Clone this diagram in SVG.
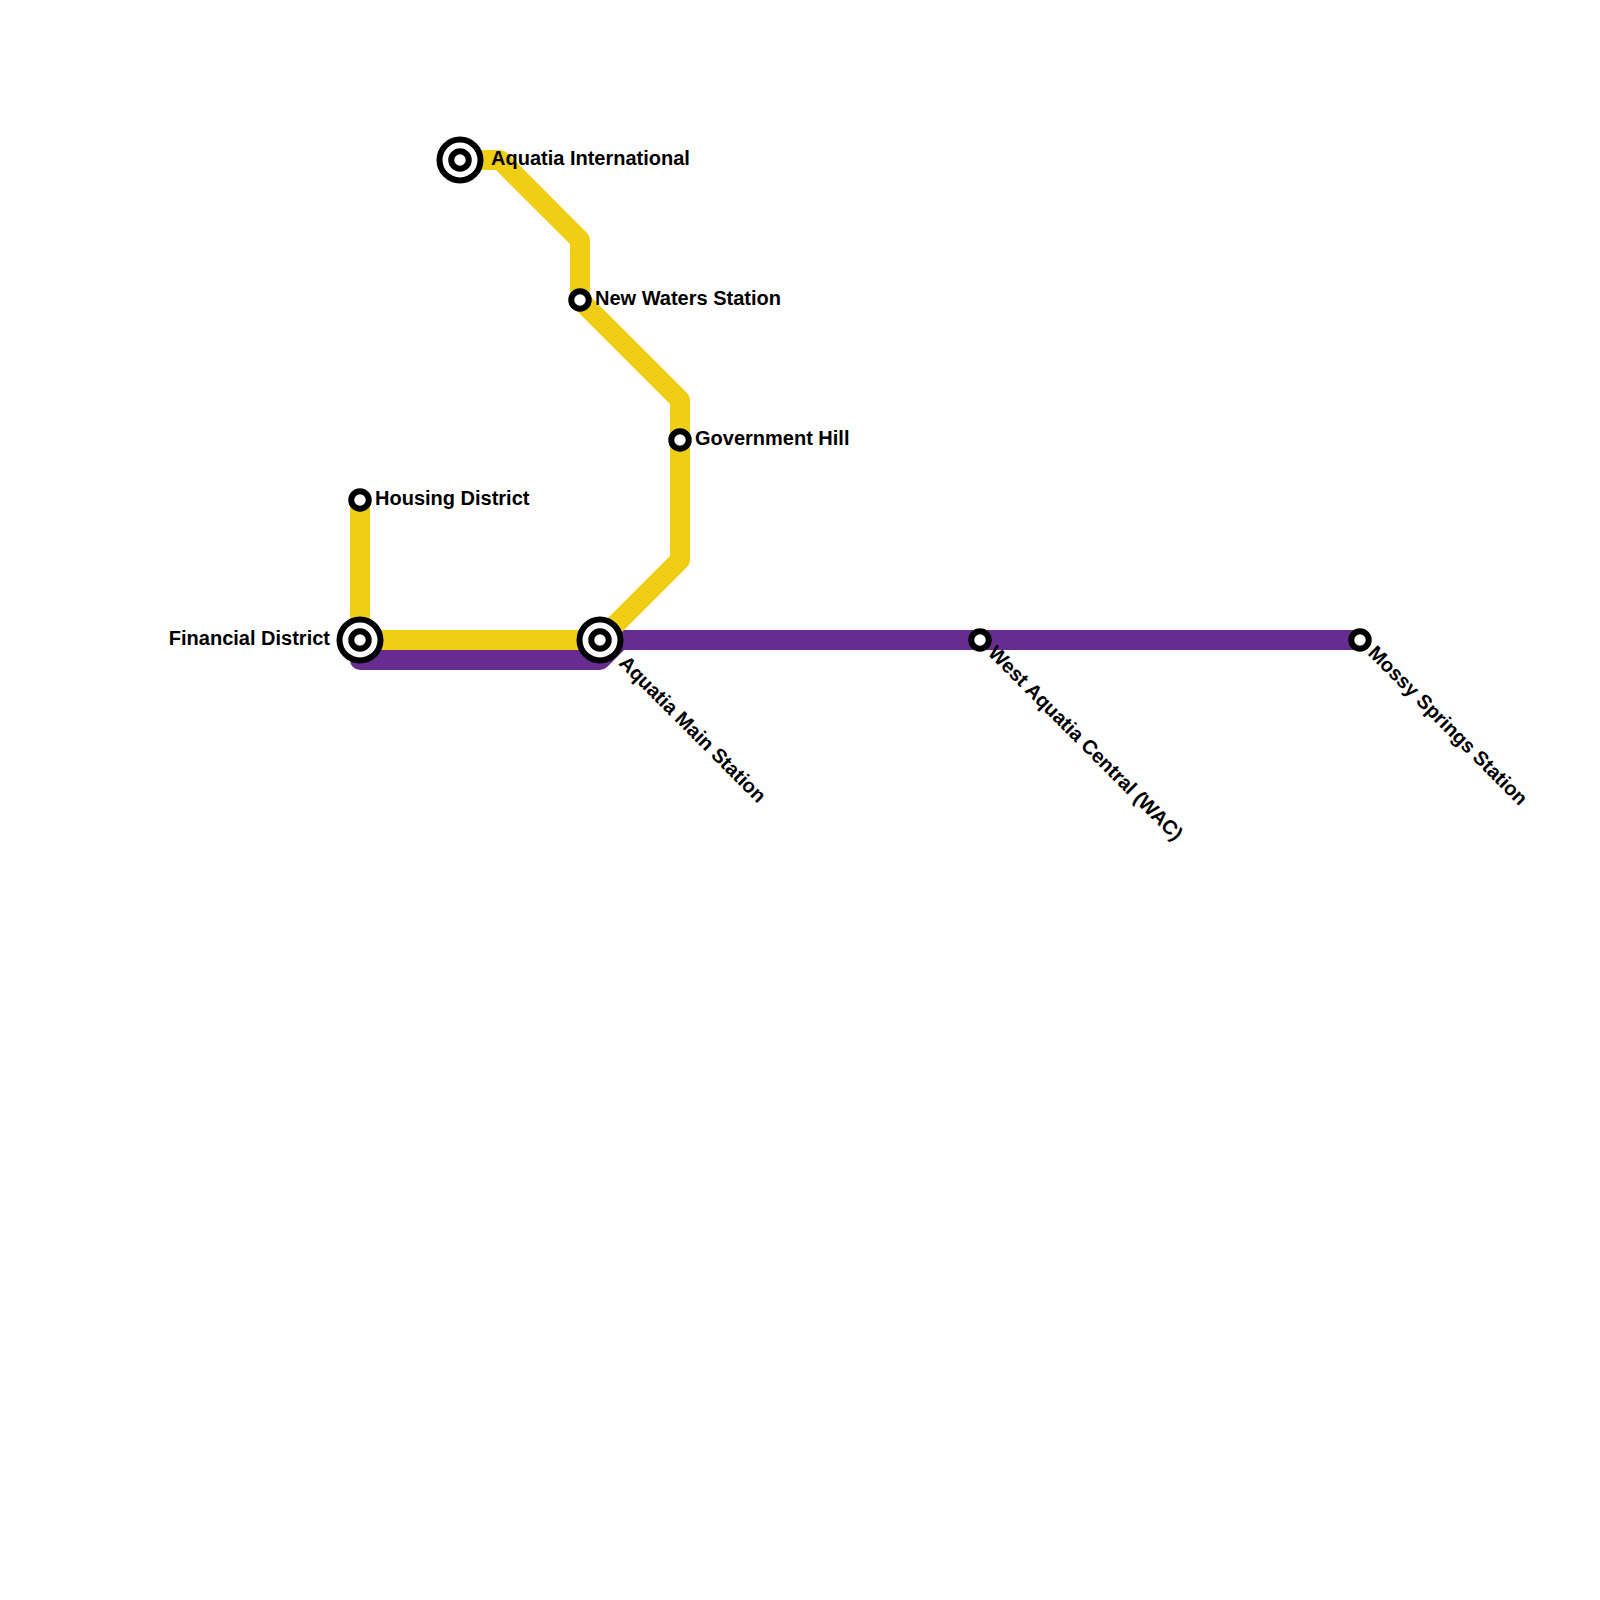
<svg xmlns="http://www.w3.org/2000/svg" width="1600" height="1600" viewBox="0 0 1600 1600">
<style>
.line{fill:none;stroke-width:20;stroke-linejoin:round;stroke-linecap:butt}
.y{stroke:#f0ce15}
.p{stroke:#662c90}
.o{fill:#fff;stroke:#000;stroke-width:6}
.m{fill:#fff;stroke:#000;stroke-width:6}
text{font-family:"Liberation Sans",Arial,sans-serif;font-size:20px;font-weight:700;fill:#000}
</style>
<rect width="1600" height="1600" fill="#fefefe"/>
<g id="connectors">
<path class="line p" d="M1360 640H620L600 660H360V640"/>
<path class="line y" d="M460 160H500L580 240V300L680 400V560L600 640H360V500"/>
</g>
<g id="aquatia-international"><circle class="m" cx="460" cy="160" r="20.5"/><circle class="o" cx="460" cy="160" r="8.75"/><text x="491" y="165">Aquatia International</text></g>
<g id="new-waters"><circle class="o" cx="580" cy="300" r="8.75"/><text x="595" y="305">New Waters Station</text></g>
<g id="government-hill"><circle class="o" cx="680" cy="440" r="8.75"/><text x="695" y="445">Government Hill</text></g>
<g id="housing-district"><circle class="o" cx="360" cy="500" r="8.75"/><text x="375" y="505">Housing District</text></g>
<g id="financial-district"><circle class="m" cx="360" cy="640" r="20.5"/><circle class="o" cx="360" cy="640" r="8.75"/><text x="330" y="645" text-anchor="end">Financial District</text></g>
<g id="aquatia-main"><circle class="m" cx="600" cy="640" r="20.5"/><circle class="o" cx="600" cy="640" r="8.75"/><text transform="translate(618 664) rotate(45)">Aquatia Main Station</text></g>
<g id="west-aquatia"><circle class="o" cx="980" cy="640" r="8.75"/><text transform="translate(987 654) rotate(45)">West Aquatia Central (WAC)</text></g>
<g id="mossy-springs"><circle class="o" cx="1360" cy="640" r="8.75"/><text transform="translate(1367 654) rotate(45)">Mossy Springs Station</text></g>
</svg>
